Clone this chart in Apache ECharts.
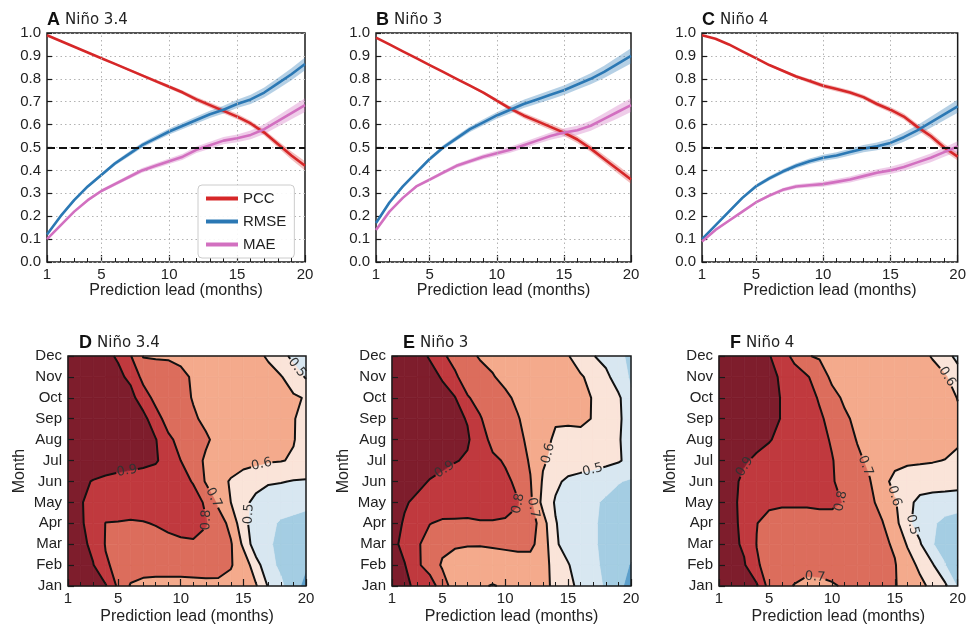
<!DOCTYPE html>
<html><head><meta charset="utf-8">
<script src="https://cdn.jsdelivr.net/npm/echarts@6.0.0/dist/echarts.min.js"></script>
<style>html,body{margin:0;padding:0;background:#fff}#c{width:969px;height:637px}</style>
</head><body><div id="c"></div>
<script>
// ---------------- data ----------------
const leads = [1,2,3,4,5,6,7,8,9,10,11,12,13,14,15,16,17,18,19,20];
const leadTicks = [1,5,10,15,20];
const leadGridLines = [5,10,15];
const months = ['Jan','Feb','Mar','Apr','May','Jun','Jul','Aug','Sep','Oct','Nov','Dec'];
const panelLetters = ['A','B','C','D','E','F'];
const regionNames = ['Niño 3.4','Niño 3','Niño 4'];
const metricNames = ['PCC','RMSE','MAE'];
const contourLevels = [0.5,0.6,0.7,0.8,0.9];
const fillBreaks = [-1,0.2,0.3,0.4,0.5,0.6,0.7,0.8,0.9,2];

// Panel A (Niño 3.4)
const pccA  = [0.99,0.965,0.94,0.915,0.89,0.865,0.84,0.815,0.79,0.765,0.74,0.71,0.685,0.66,0.635,0.605,0.565,0.515,0.465,0.42];
const rmseA = [0.12,0.2,0.27,0.33,0.38,0.43,0.47,0.51,0.54,0.57,0.595,0.62,0.645,0.665,0.69,0.71,0.74,0.78,0.82,0.865];
const maeA  = [0.10,0.16,0.22,0.27,0.31,0.34,0.37,0.40,0.42,0.44,0.46,0.49,0.51,0.53,0.54,0.555,0.58,0.615,0.65,0.685];
const pccSpreadA  = [0,0,0,0,0.002,0.004,0.005,0.006,0.007,0.008,0.009,0.01,0.011,0.012,0.012,0.012,0.013,0.015,0.017,0.02];
const rmseSpreadA = [0.002,0.004,0.006,0.007,0.008,0.009,0.01,0.011,0.012,0.013,0.014,0.015,0.016,0.017,0.018,0.02,0.022,0.024,0.026,0.028];
const maeSpreadA  = [0.002,0.003,0.005,0.006,0.007,0.008,0.009,0.01,0.011,0.012,0.013,0.014,0.015,0.016,0.017,0.019,0.021,0.024,0.027,0.03];
// Panel B (Niño 3)
const pccB  = [0.98,0.95,0.92,0.89,0.86,0.83,0.80,0.77,0.74,0.705,0.67,0.64,0.615,0.59,0.565,0.535,0.495,0.45,0.405,0.36];
const rmseB = [0.17,0.26,0.33,0.39,0.45,0.50,0.54,0.58,0.61,0.64,0.665,0.69,0.71,0.73,0.75,0.775,0.80,0.83,0.865,0.90];
const maeB  = [0.14,0.22,0.28,0.33,0.36,0.39,0.42,0.44,0.46,0.475,0.49,0.51,0.53,0.55,0.565,0.575,0.595,0.625,0.655,0.685];
const pccSpreadB  = [0,0,0,0,0.002,0.003,0.004,0.005,0.006,0.008,0.01,0.012,0.013,0.014,0.015,0.015,0.015,0.016,0.017,0.018];
const rmseSpreadB = [0.002,0.004,0.006,0.008,0.009,0.01,0.011,0.012,0.013,0.014,0.016,0.018,0.019,0.02,0.021,0.022,0.024,0.027,0.03,0.033];
const maeSpreadB  = [0.002,0.003,0.005,0.006,0.007,0.008,0.009,0.01,0.011,0.012,0.013,0.014,0.015,0.016,0.018,0.02,0.022,0.025,0.028,0.03];
// Panel C (Niño 4)
const pccC  = [0.99,0.975,0.95,0.92,0.89,0.86,0.835,0.81,0.79,0.77,0.755,0.74,0.72,0.69,0.665,0.635,0.59,0.55,0.50,0.46];
const rmseC = [0.10,0.16,0.22,0.28,0.33,0.365,0.395,0.42,0.44,0.455,0.465,0.48,0.495,0.505,0.52,0.545,0.575,0.61,0.645,0.68];
const maeC  = [0.09,0.14,0.18,0.22,0.26,0.29,0.315,0.33,0.335,0.34,0.35,0.36,0.375,0.39,0.40,0.415,0.435,0.455,0.48,0.505];
const pccSpreadC  = [0,0,0,0,0.002,0.004,0.006,0.008,0.009,0.01,0.01,0.01,0.01,0.011,0.012,0.013,0.014,0.015,0.016,0.017];
const rmseSpreadC = [0.002,0.004,0.006,0.007,0.008,0.009,0.01,0.011,0.012,0.013,0.014,0.015,0.016,0.017,0.018,0.02,0.022,0.024,0.026,0.028];
const maeSpreadC  = [0.002,0.003,0.004,0.005,0.006,0.007,0.008,0.009,0.01,0.011,0.012,0.013,0.014,0.015,0.016,0.017,0.018,0.019,0.02,0.022];

// Panel D (Niño 3.4) PCC by target month (rows Jan..Dec) and lead 1..20
const monthPccD = [
 [0.97,0.95,0.93,0.91,0.78,0.69,0.665,0.66,0.66,0.66,0.665,0.67,0.675,0.68,0.66,0.61,0.49,0.42,0.34,0.27],
 [0.97,0.94,0.905,0.81,0.78,0.76,0.755,0.75,0.75,0.75,0.75,0.75,0.74,0.705,0.665,0.54,0.43,0.38,0.34,0.31],
 [0.96,0.93,0.875,0.795,0.77,0.76,0.76,0.765,0.775,0.785,0.79,0.78,0.76,0.71,0.58,0.44,0.41,0.38,0.36,0.35],
 [0.95,0.91,0.87,0.798,0.795,0.79,0.795,0.805,0.82,0.83,0.83,0.805,0.75,0.67,0.53,0.45,0.42,0.39,0.38,0.37],
 [0.95,0.905,0.88,0.86,0.855,0.85,0.845,0.845,0.845,0.84,0.83,0.79,0.68,0.60,0.53,0.47,0.45,0.44,0.43,0.42],
 [0.95,0.92,0.895,0.88,0.87,0.86,0.855,0.85,0.84,0.825,0.795,0.69,0.64,0.59,0.56,0.54,0.51,0.505,0.495,0.49],
 [0.97,0.965,0.96,0.95,0.94,0.935,0.925,0.91,0.86,0.80,0.73,0.69,0.665,0.65,0.63,0.62,0.61,0.605,0.59,0.58],
 [0.97,0.97,0.96,0.955,0.95,0.94,0.925,0.905,0.82,0.77,0.75,0.71,0.68,0.67,0.66,0.655,0.645,0.625,0.605,0.56],
 [0.97,0.965,0.96,0.95,0.94,0.935,0.93,0.84,0.76,0.74,0.71,0.685,0.675,0.665,0.66,0.65,0.64,0.62,0.605,0.57],
 [0.97,0.96,0.95,0.945,0.94,0.93,0.85,0.77,0.745,0.725,0.695,0.68,0.67,0.665,0.66,0.65,0.64,0.625,0.61,0.595],
 [0.97,0.96,0.95,0.935,0.92,0.88,0.77,0.755,0.74,0.72,0.69,0.675,0.665,0.66,0.65,0.64,0.625,0.605,0.56,0.49],
 [0.97,0.96,0.94,0.92,0.89,0.805,0.695,0.69,0.69,0.68,0.67,0.66,0.65,0.64,0.63,0.62,0.59,0.54,0.47,0.42]
];
// Panel E (Niño 3)
const monthPccE = [
 [0.95,0.92,0.88,0.86,0.74,0.66,0.63,0.61,0.595,0.61,0.625,0.63,0.625,0.58,0.53,0.47,0.43,0.39,0.32,0.27],
 [0.93,0.905,0.82,0.75,0.69,0.665,0.66,0.655,0.655,0.66,0.665,0.665,0.63,0.57,0.505,0.46,0.42,0.38,0.33,0.295],
 [0.93,0.87,0.81,0.77,0.72,0.71,0.705,0.705,0.71,0.715,0.72,0.72,0.66,0.51,0.47,0.44,0.41,0.38,0.35,0.33],
 [0.94,0.89,0.85,0.802,0.79,0.79,0.79,0.795,0.795,0.79,0.78,0.76,0.64,0.505,0.46,0.43,0.41,0.38,0.36,0.35],
 [0.95,0.91,0.88,0.86,0.84,0.835,0.83,0.83,0.83,0.83,0.805,0.72,0.57,0.49,0.45,0.43,0.41,0.39,0.37,0.36],
 [0.96,0.945,0.925,0.895,0.875,0.86,0.85,0.845,0.83,0.82,0.78,0.705,0.59,0.52,0.48,0.465,0.45,0.425,0.405,0.39],
 [0.97,0.965,0.955,0.94,0.925,0.905,0.89,0.86,0.82,0.79,0.745,0.69,0.61,0.575,0.56,0.55,0.54,0.53,0.51,0.47],
 [0.97,0.97,0.96,0.955,0.945,0.93,0.91,0.85,0.77,0.745,0.72,0.68,0.63,0.585,0.57,0.57,0.565,0.55,0.51,0.45],
 [0.97,0.965,0.955,0.945,0.935,0.92,0.895,0.805,0.77,0.74,0.705,0.67,0.64,0.61,0.615,0.62,0.595,0.56,0.52,0.44],
 [0.97,0.96,0.95,0.935,0.92,0.905,0.805,0.78,0.75,0.715,0.685,0.67,0.665,0.655,0.645,0.625,0.595,0.56,0.52,0.41],
 [0.96,0.95,0.935,0.92,0.895,0.81,0.77,0.74,0.705,0.68,0.67,0.665,0.66,0.645,0.63,0.61,0.57,0.53,0.44,0.39],
 [0.96,0.94,0.92,0.895,0.81,0.78,0.73,0.69,0.68,0.67,0.66,0.65,0.64,0.625,0.605,0.55,0.505,0.46,0.42,0.38]
];
// Panel F (Niño 4)
const monthPccF = [
 [0.96,0.95,0.935,0.915,0.76,0.73,0.695,0.67,0.675,0.69,0.71,0.725,0.73,0.725,0.705,0.67,0.63,0.57,0.52,0.39],
 [0.95,0.935,0.91,0.81,0.77,0.76,0.745,0.735,0.735,0.74,0.75,0.75,0.745,0.73,0.705,0.65,0.575,0.51,0.405,0.29],
 [0.93,0.925,0.885,0.798,0.77,0.765,0.765,0.765,0.765,0.765,0.76,0.755,0.74,0.715,0.69,0.59,0.51,0.405,0.36,0.33],
 [0.94,0.915,0.885,0.802,0.775,0.77,0.77,0.77,0.77,0.77,0.765,0.75,0.73,0.705,0.635,0.52,0.46,0.41,0.38,0.37],
 [0.95,0.92,0.875,0.84,0.815,0.81,0.81,0.81,0.815,0.815,0.795,0.76,0.72,0.67,0.61,0.53,0.47,0.45,0.44,0.43],
 [0.95,0.925,0.88,0.865,0.86,0.855,0.85,0.845,0.84,0.805,0.78,0.745,0.705,0.635,0.57,0.555,0.555,0.555,0.555,0.55],
 [0.96,0.945,0.91,0.885,0.87,0.86,0.85,0.845,0.835,0.805,0.76,0.72,0.68,0.65,0.63,0.615,0.61,0.605,0.598,0.585],
 [0.97,0.96,0.945,0.925,0.905,0.88,0.865,0.85,0.83,0.79,0.745,0.695,0.68,0.675,0.67,0.665,0.655,0.645,0.63,0.61],
 [0.97,0.965,0.955,0.945,0.93,0.895,0.875,0.855,0.815,0.77,0.715,0.68,0.68,0.675,0.67,0.665,0.655,0.645,0.63,0.61],
 [0.97,0.965,0.955,0.945,0.93,0.895,0.87,0.84,0.79,0.73,0.685,0.68,0.675,0.67,0.665,0.66,0.65,0.64,0.625,0.598],
 [0.97,0.965,0.95,0.935,0.92,0.89,0.85,0.81,0.75,0.68,0.68,0.675,0.67,0.665,0.66,0.65,0.64,0.625,0.61,0.55],
 [0.97,0.96,0.94,0.92,0.905,0.85,0.77,0.705,0.69,0.68,0.675,0.67,0.665,0.66,0.65,0.635,0.62,0.595,0.54,0.47]
];

// ---------------- style ----------------
const FONT = 'Liberation Sans, Arial, Helvetica, sans-serif';
const FONT2 = 'DejaVu Sans, Liberation Sans, sans-serif';
const colPCC = '#d62728', colRMSE = '#2b78b4', colMAE = '#d270c0';
const bandPCC = 'rgba(214,39,40,0.30)', bandRMSE = 'rgba(43,120,180,0.35)', bandMAE = 'rgba(210,112,192,0.35)';
const fillColors = ['#3f87c0','#5c9fcb','#a4cde3','#d8e7f1','#fae4d9','#f4aa8c','#dc6d5c','#c0393e','#7e1d2c'];
const boxes = [[47,305],[376,631],[702,958],[68,306],[392,631],[719,958]];
const topY = [33,262], botY = [356,586];

const topSets = [
  {pcc:pccA, rmse:rmseA, mae:maeA, sp:[pccSpreadA, rmseSpreadA, maeSpreadA]},
  {pcc:pccB, rmse:rmseB, mae:maeB, sp:[pccSpreadB, rmseSpreadB, maeSpreadB]},
  {pcc:pccC, rmse:rmseC, mae:maeC, sp:[pccSpreadC, rmseSpreadC, maeSpreadC]}
];
const monthSets = [monthPccD, monthPccE, monthPccF];

// ---------------- helpers ----------------
function clipPoly(poly, t, above){
  const out=[]; const n=poly.length;
  const inside = p => above ? p[2] >= t : p[2] < t;
  for (let k=0;k<n;k++){
    const a=poly[k], b=poly[(k+1)%n];
    const ia=inside(a), ib=inside(b);
    if (ia) out.push(a);
    if (ia!==ib){
      const f=(t-a[2])/(b[2]-a[2]);
      out.push([a[0]+f*(b[0]-a[0]), a[1]+f*(b[1]-a[1]), t]);
    }
  }
  return out;
}
function contourSegments(g, lev){
  const segs=[];
  const nr=g.length, nc=g[0].length;
  for (let j=0;j<nr-1;j++){
    for (let i=0;i<nc-1;i++){
      const v00=g[j][i], v10=g[j][i+1], v11=g[j+1][i+1], v01=g[j+1][i];
      const a00=v00>=lev, a10=v10>=lev, a11=v11>=lev, a01=v01>=lev;
      const pts=[];
      if (a00!==a10) pts.push({k:'h'+i+'_'+j, x:i+(lev-v00)/(v10-v00), y:j});
      if (a10!==a11) pts.push({k:'v'+(i+1)+'_'+j, x:i+1, y:j+(lev-v10)/(v11-v10)});
      if (a01!==a11) pts.push({k:'h'+i+'_'+(j+1), x:i+(lev-v01)/(v11-v01), y:j+1});
      if (a00!==a01) pts.push({k:'v'+i+'_'+j, x:i, y:j+(lev-v00)/(v01-v00)});
      if (pts.length===2) segs.push([pts[0],pts[1]]);
      else if (pts.length===4){
        const c=(v00+v10+v11+v01)/4;
        if ((c>=lev)===a00){ segs.push([pts[0],pts[1]]); segs.push([pts[2],pts[3]]); }
        else { segs.push([pts[0],pts[3]]); segs.push([pts[1],pts[2]]); }
      }
    }
  }
  return segs;
}
function chainSegments(segs){
  const map=new Map();
  segs.forEach((s,idx)=>s.forEach((p,e)=>{ if(!map.has(p.k)) map.set(p.k,[]); map.get(p.k).push([idx,e]); }));
  const used=new Array(segs.length).fill(false);
  const lines=[];
  const extend=(arr)=>{
    while(true){
      const last=arr[arr.length-1];
      const cand=(map.get(last.k)||[]).find(c=>!used[c[0]]);
      if(!cand) break;
      used[cand[0]]=true;
      arr.push(segs[cand[0]][1-cand[1]]);
    }
  };
  for (let s0=0;s0<segs.length;s0++){
    if (used[s0]) continue;
    used[s0]=true;
    const line=[segs[s0][0], segs[s0][1]];
    extend(line); line.reverse(); extend(line);
    lines.push(line);
  }
  return lines;
}
function pointAt(px, cum, s){
  for (let k=0;k<px.length-1;k++){
    if (s<=cum[k+1]){
      const d=cum[k+1]-cum[k]; const f=d>0?(s-cum[k])/d:0;
      return [px[k][0]+f*(px[k+1][0]-px[k][0]), px[k][1]+f*(px[k+1][1]-px[k][1])];
    }
  }
  return px[px.length-1];
}
function polyEl(points){
  return {type:'polyline', shape:{points}, style:{stroke:'#111', lineWidth:2, fill:'none', lineJoin:'round'}};
}

// ---------------- option ----------------
const grid=[], xAxis=[], yAxis=[], series=[], title=[];
for (let g=0; g<6; g++){
  const top = g<3, b = boxes[g], yy = top?topY:botY;
  grid.push({left:b[0], top:yy[0], width:b[1]-b[0], height:yy[1]-yy[0], show:true, borderColor:'#1a1a1a', borderWidth:1.5, backgroundColor:'transparent', z: top?0:6, containLabel:false});
  xAxis.push({type:'value', gridIndex:g, min:1, max:20, interval:1, z: top?0:5,
    name:'Prediction lead (months)', nameLocation:'middle', nameGap: top?21:23,
    nameTextStyle:{fontSize:16, color:'#222', fontFamily:FONT},
    axisLine:{show:false},
    axisTick:{show:true, inside:true, length:7, customValues:leadTicks, lineStyle:{color:'#1a1a1a', width:1.2}},
    axisLabel:{show:true, customValues:leadTicks, fontSize:15, color:'#222', fontFamily:FONT, margin:5,
      formatter:v=>leadTicks.indexOf(v)>=0?String(v):''},
    splitLine:{show:false}});
  xAxis.push({type:'value', gridIndex:g, min:1, max:20, interval:1, position:'bottom', z: top?0:5,
    axisLine:{show:false}, axisLabel:{show:false}, splitLine:{show:false},
    axisTick:{show:true, inside:true, length:4, lineStyle:{color:'#1a1a1a', width:1}}});
  if (top){
    yAxis.push({type:'value', gridIndex:g, min:0, max:1, interval:0.1,
      axisLine:{show:false},
      axisTick:{show:true, inside:true, length:5, lineStyle:{color:'#1a1a1a', width:1.2}},
      axisLabel:{fontSize:15, color:'#222', fontFamily:FONT, margin:6, formatter:v=>v.toFixed(1)},
      splitLine:{show:true, lineStyle:{color:'#b3b3b3', width:1, type:[1.5,3]}}});
  } else {
    yAxis.push({type:'value', gridIndex:g, min:1, max:12, interval:1, z:5,
      name:'Month', nameLocation:'middle', nameRotate:90, nameGap:40,
      nameTextStyle:{fontSize:16, color:'#222', fontFamily:FONT},
      axisLine:{show:false},
      axisTick:{show:true, inside:true, length:6, lineStyle:{color:'#1a1a1a', width:1.2}},
      axisLabel:{fontSize:15, color:'#222', fontFamily:FONT, margin:6, formatter:v=>months[v-1]||''},
      splitLine:{show:false}});
  }
  title.push({text:'{b|'+panelLetters[g]+'} {n|'+regionNames[g%3]+'}', left: top?b[0]:b[0]+11, top: top?11:334, padding:0,
    textStyle:{fontWeight:'normal', rich:{b:{fontSize:18, fontWeight:'bold', fontFamily:FONT, color:'#111'}, n:{fontSize:15, fontWeight:'normal', fontFamily:FONT2, color:'#222'}}}});
}

// top panels
for (let g=0; g<3; g++){
  const s = topSets[g];
  const vals=[s.pcc, s.rmse, s.mae], cols=[colPCC,colRMSE,colMAE], bands=[bandPCC,bandRMSE,bandMAE];
  for (let m=0;m<3;m++){
    const v=vals[m], sp=s.sp[m], bc=bands[m];
    const band = {type:'custom', name:'band'+m, xAxisIndex:2*g, yAxisIndex:g, z:1, silent:true, data:[[1,0]],
      renderItem:(params, api)=>{
        const pts=[];
        for (let i=0;i<leads.length;i++) pts.push(api.coord([leads[i], v[i]+sp[i]]));
        for (let i=leads.length-1;i>=0;i--) pts.push(api.coord([leads[i], v[i]-sp[i]]));
        return {type:'polygon', shape:{points:pts}, style:{fill:bc, stroke:'none'}};
      }};
    if (m===0){
      band.markLine = {silent:true, symbol:['none','none'], label:{show:false}, animation:false,
        lineStyle:{color:'#b3b3b3', width:1, type:[1.5,3]},
        data: leadGridLines.map(x=>({xAxis:x}))};
    }
    series.push(band);
  }
  for (let m=0;m<3;m++){
    const ser = {type:'line', name:metricNames[m], xAxisIndex:2*g, yAxisIndex:g, z:3, symbol:'none',
      lineStyle:{color:cols[m], width:2.6}, itemStyle:{color:cols[m]},
      data: leads.map((l,i)=>[l, vals[m][i]])};
    if (m===0){
      ser.markLine = {silent:true, symbol:['none','none'], label:{show:false}, animation:false,
        lineStyle:{color:'#111', width:2, type:[8,4]}, data:[{yAxis:0.5}]};
    }
    series.push(ser);
  }
}

// bottom panels
for (let p=0; p<3; p++){
  const g=3+p, gv=monthSets[p];
  const cells=[];
  for (let j=1;j<months.length;j++) for (let i=1;i<leads.length;i++) cells.push([leads[i-1], j]);
  series.push({type:'custom', xAxisIndex:2*g, yAxisIndex:g, z:1, silent:true, data:cells, clip:false,
    renderItem:(params, api)=>{
      const x=api.value(0), y=api.value(1);
      const i=x-1, j=y-1;
      const corners=[[i,j,gv[j][i]],[i+1,j,gv[j][i+1]],[i+1,j+1,gv[j+1][i+1]],[i,j+1,gv[j+1][i]]];
      const children=[];
      for (let b=0;b<fillColors.length;b++){
        let poly=clipPoly(corners, fillBreaks[b], true);
        if (poly.length<3) continue;
        poly=clipPoly(poly, fillBreaks[b+1], false);
        if (poly.length<3) continue;
        const pts=poly.map(q=>api.coord([q[0]+1, q[1]+1]));
        children.push({type:'polygon', shape:{points:pts}, style:{fill:fillColors[b], stroke:fillColors[b], lineWidth:0.7}});
      }
      return {type:'group', children};
    }});
  series.push({type:'custom', xAxisIndex:2*g, yAxisIndex:g, z:4, silent:true, data:[[1,1]], clip:false,
    renderItem:(params, api)=>{
      const children=[];
      for (const lev of contourLevels){
        const lines=chainSegments(contourSegments(gv, lev));
        for (const line of lines){
          const px=line.map(q=>api.coord([q.x+1, q.y+1]));
          const cum=[0];
          for (let k=1;k<px.length;k++) cum.push(cum[k-1]+Math.hypot(px[k][0]-px[k-1][0], px[k][1]-px[k-1][1]));
          const total=cum[cum.length-1];
          if (total>26){
            const half=11, sMid=total/2;
            const pA=pointAt(px,cum,sMid-half), pB=pointAt(px,cum,sMid+half), pM=pointAt(px,cum,sMid);
            let ang=Math.atan2(-(pB[1]-pA[1]), pB[0]-pA[0]);
            if (ang>Math.PI/2) ang-=Math.PI;
            if (ang<-Math.PI/2) ang+=Math.PI;
            const part1=px.filter((q,k)=>cum[k]<sMid-half).concat([pA]);
            const part2=[pB].concat(px.filter((q,k)=>cum[k]>sMid+half));
            if (part1.length>1) children.push(polyEl(part1));
            if (part2.length>1) children.push(polyEl(part2));
            children.push({type:'text', x:pM[0], y:pM[1], rotation:ang,
              style:{text:lev.toFixed(1), fill:'#333', font:'13px "DejaVu Sans"', align:'center', verticalAlign:'middle', textAlign:'center', textVerticalAlign:'middle'}});
          } else {
            children.push(polyEl(px));
          }
        }
      }
      return {type:'group', children};
    }});
}

const option = {
  animation:false,
  backgroundColor:'#ffffff',
  title, grid, xAxis, yAxis, series,
  legend:{data:metricNames, left:198, top:185, orient:'vertical', icon:'rect', itemWidth:32, itemHeight:4, itemGap:8,
    padding:[6,8,6,8], borderColor:'#cccccc', borderWidth:1, borderRadius:4, backgroundColor:'rgba(255,255,255,0.9)',
    textStyle:{fontSize:15, color:'#222', fontFamily:FONT}, selectedMode:false, z:10}
};
const chart = echarts.init(document.getElementById('c'));
chart.setOption(option);
</script>
</body></html>
